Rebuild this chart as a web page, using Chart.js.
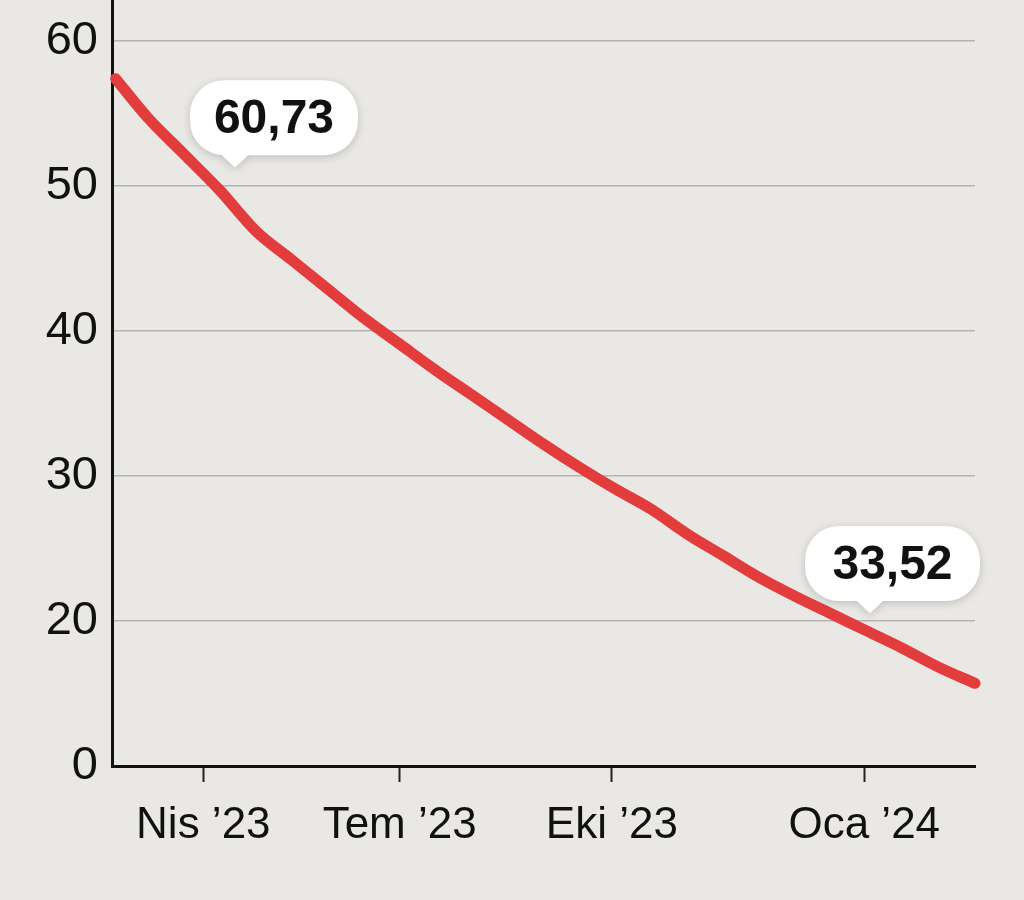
<!DOCTYPE html>
<html>
<head>
<meta charset="utf-8">
<script src="https://cdn.jsdelivr.net/npm/chart.js@4.4.1/dist/chart.umd.min.js"></script>
<style>
    html, body { margin: 0; padding: 0; background: #e9e8e4; }
    #wrap { width: 1024px; height: 900px; position: relative; }
</style>
</head>
<body>
<div id="wrap"><canvas id="lineChart"></canvas></div>
<script>
// Data
const monthPos = [0.05, 0.5, 1, 1.5, 2, 2.5, 3, 3.5, 4, 4.5, 5, 5.5, 6,
                  6.5, 7, 7.5, 8, 8.5, 9, 9.5, 10, 10.5, 11, 11.5, 12];
const values = [57.4, 54.7, 52.2, 49.7, 46.9, 44.9, 42.9, 40.9, 39.1, 37.3, 35.6, 33.9, 32.2,
                30.6, 29.1, 27.7, 26.0, 24.5, 23.0, 21.7, 20.5, 19.3, 18.1, 16.8, 15.7];

const xTickValues = [1.27, 4.0, 6.95, 10.46];
const xTickLabels = ['Nis \u201923', 'Tem \u201923', 'Eki \u201923', 'Oca \u201924'];

const yTickValues = [10, 20, 30, 40, 50, 60];
const yTickLabels = ['0', '20', '30', '40', '50', '60'];

const calloutLabels = ['60,73', '33,52'];
const calloutX = [1.71, 10.54];
const calloutY = [51.3, 20.55];

const BG = '#e9e8e4';
const FONT = "'Liberation Sans', Arial, sans-serif";

// Background fill
const bgPlugin = {
    id: 'bg',
    beforeDraw(chart) {
        const c = chart.ctx;
        c.save();
        c.fillStyle = BG;
        c.fillRect(0, 0, chart.width, chart.height);
        c.restore();
    }
};

// White speech-bubble labels pointing at the line
const calloutPlugin = {
    id: 'callouts',
    afterDatasetsDraw(chart) {
        const c = chart.ctx;
        const xs = chart.scales.x, ys = chart.scales.y;
        const boxW = [168, 175];
        const leftOff = [45, 65];
        const boxH = 75, r = 34, gap = 12, half = 13;

        calloutLabels.forEach((label, i) => {
            const px = xs.getPixelForValue(calloutX[i]);
            const py = ys.getPixelForValue(calloutY[i]);
            const left = px - leftOff[i];
            const bottom = py - gap;
            const top = bottom - boxH;
            const right = left + boxW[i];

            c.save();
            c.beginPath();
            c.moveTo(left + r, top);
            c.lineTo(right - r, top);
            c.arcTo(right, top, right, top + r, r);
            c.arcTo(right, bottom, right - r, bottom, r);
            c.lineTo(px + half, bottom);
            c.quadraticCurveTo(px + 2, py - 1, px, py);
            c.quadraticCurveTo(px - 2, py - 1, px - half, bottom);
            c.lineTo(left + r, bottom);
            c.arcTo(left, bottom, left, bottom - r, r);
            c.arcTo(left, top, left + r, top, r);
            c.closePath();
            c.shadowColor = 'rgba(0,0,0,0.18)';
            c.shadowBlur = 8;
            c.shadowOffsetY = 2;
            c.fillStyle = '#ffffff';
            c.fill();
            c.restore();

            c.save();
            c.fillStyle = '#111111';
            c.font = 'bold 48px ' + FONT;
            c.textAlign = 'center';
            c.textBaseline = 'middle';
            c.fillText(label, (left + right) / 2, (top + bottom) / 2 + 2);
            c.restore();
        });
    }
};

function createChart() {
    const ctx = document.getElementById('lineChart');

    new Chart(ctx, {
        type: 'line',
        data: {
            datasets: [{
                data: monthPos.map((x, i) => ({ x: x, y: values[i] })),
                borderColor: '#e23c3c',
                borderWidth: 11,
                borderCapStyle: 'round',
                borderJoinStyle: 'round',
                cubicInterpolationMode: 'monotone',
                pointRadius: 0,
                clip: false,
                fill: false
            }]
        },
        options: {
            responsive: true,
            maintainAspectRatio: false,
            animation: false,
            layout: {
                padding: { left: 0, right: 49, top: 0, bottom: 0 }
            },
            plugins: {
                legend: { display: false },
                tooltip: { enabled: false }
            },
            scales: {
                x: {
                    type: 'linear',
                    min: 0,
                    max: 12,
                    afterBuildTicks: scale => {
                        scale.ticks = xTickValues.map(v => ({ value: v }));
                    },
                    afterFit: scale => { scale.height = 134; },
                    ticks: {
                        autoSkip: false,
                        maxRotation: 0,
                        padding: 17,
                        color: '#111',
                        font: { family: FONT, size: 44 },
                        callback: (v, i) => xTickLabels[i]
                    },
                    grid: {
                        drawOnChartArea: false,
                        drawTicks: true,
                        tickLength: 16,
                        tickColor: '#222',
                        tickWidth: 2
                    },
                    border: { color: '#111', width: 3 }
                },
                y: {
                    type: 'linear',
                    min: 10,
                    max: 62.83,
                    afterBuildTicks: scale => {
                        scale.ticks = yTickValues.map(v => ({ value: v }));
                    },
                    afterFit: scale => {
                        scale.width = 112;
                        scale.paddingTop = 0;
                        scale.paddingBottom = 0;
                    },
                    ticks: {
                        padding: 14,
                        color: '#111',
                        font: { family: FONT, size: 47 },
                        callback: (v, i) => yTickLabels[i]
                    },
                    grid: {
                        drawTicks: false,
                        color: '#b4b3b0',
                        lineWidth: 1.5
                    },
                    border: { color: '#111', width: 3 }
                }
            }
        },
        plugins: [bgPlugin, calloutPlugin]
    });
}

document.addEventListener('DOMContentLoaded', createChart);
</script>
</body>
</html>
